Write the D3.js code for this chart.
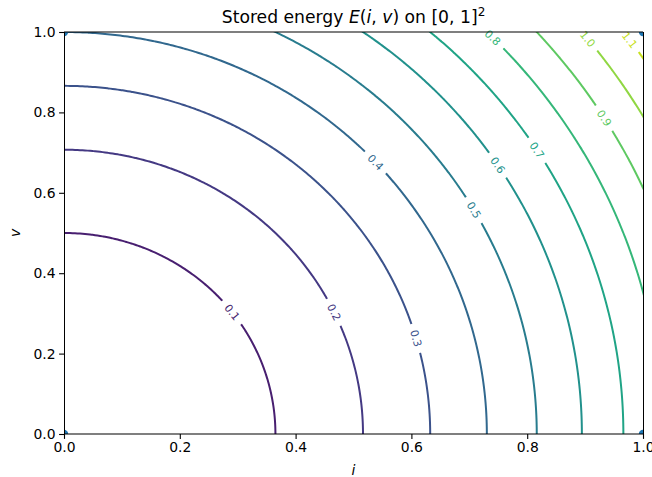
<!DOCTYPE html>
<html><head><meta charset="utf-8">
<script src="https://cdn.jsdelivr.net/npm/d3@7"></script>
<style>body{margin:0;background:#fff}svg{display:block}</style>
</head><body>
<svg id="chart" width="652" height="477"></svg>
<script>
// Stored energy E(i, v) = ½·L·i² + ½·C·v²
const inductance = 1.5;
const capacitance = 0.8;
const levels = [0.1, 0.2, 0.3, 0.4, 0.5, 0.6, 0.7, 0.8, 0.9, 1.0, 1.1];
const colorMin = 0.0, colorMax = 1.2;
// v coordinate (data space) where each contour label sits
const labelV = [0.303, 0.303, 0.238, 0.676, 0.557, 0.669, 0.706, 0.986, 0.786, 0.983, 0.980];
const xTicks = [0.0, 0.2, 0.4, 0.6, 0.8, 1.0];
const yTicks = [0.0, 0.2, 0.4, 0.6, 0.8, 1.0];
const cornerI = [0, 0, 1, 1];
const cornerV = [0, 1, 0, 1];

const energy = (i, v) => 0.5 * inductance * i * i + 0.5 * capacitance * v * v;

const svg = d3.select("#chart");
const W = 652, H = 477;
const X0 = 64, X1 = 643, Y0 = 434, Y1 = 32;
const x = d3.scaleLinear().domain([0, 1]).range([X0, X1]);
const y = d3.scaleLinear().domain([0, 1]).range([Y0, Y1]);
const font = "DejaVu Sans, sans-serif";

const defs = svg.append("defs");
defs.append("clipPath").attr("id", "plotclip")
  .append("rect").attr("x", X0).attr("y", Y1).attr("width", X1 - X0).attr("height", Y0 - Y1);

// grid
const pad = 0.02, n = 241;
const step = (1 + 2 * pad) / (n - 1);
const values = new Array(n * n);
for (let k = 0; k < n; k++) for (let j = 0; j < n; j++) {
  values[k * n + j] = energy(-pad + j * step, -pad + k * step);
}
const toData = c => -pad + (c - 0.5) * step;
const contours = d3.contours().size([n, n]).thresholds(levels)(values);
const proj = d3.geoTransform({
  point(cx, cy) { this.stream.point(x(toData(cx)), y(toData(cy))); }
});
const path = d3.geoPath(proj);
const color = lev => d3.interpolateViridis((lev - colorMin) / (colorMax - colorMin));

// corner points
svg.append("g").attr("clip-path", "url(#plotclip)")
  .selectAll("circle").data(cornerI).join("circle")
  .attr("cx", (d) => x(d)).attr("cy", (d, idx) => y(cornerV[idx]))
  .attr("r", 4.2).attr("fill", "#1f77b4");

// labels (measure first)
const labelG = svg.append("g");
const labels = levels.map((lev, idx) => {
  const v0 = labelV[idx];
  const i0 = Math.sqrt(Math.max(0, (lev - 0.5 * capacitance * v0 * v0) / (0.5 * inductance)));
  const sx = x(1) - x(0), sy = y(1) - y(0);
  const dx = -capacitance * v0 * sx, dy = inductance * i0 * sy;
  let ang = Math.atan2(dy, dx) * 180 / Math.PI;
  if (ang > 90) ang -= 180;
  if (ang <= -90) ang += 180;
  return { lev, px: x(i0), py: y(v0), ang };
});
labelG.selectAll("text").data(labels).join("text")
  .attr("transform", d => `translate(${d.px},${d.py}) rotate(${d.ang})`)
  .attr("text-anchor", "middle").attr("dy", "0.36em")
  .attr("font-family", font).attr("font-size", 10.8)
  .attr("fill", d => color(d.lev))
  .text(d => d3.format(".1f")(d.lev))
  .each(function (d) { d.w = this.getComputedTextLength(); });

const mask = defs.append("mask").attr("id", "gapmask").attr("maskUnits", "userSpaceOnUse")
  .attr("x", 0).attr("y", 0).attr("width", W).attr("height", H);
mask.append("rect").attr("x", 0).attr("y", 0).attr("width", W).attr("height", H).attr("fill", "#fff");
mask.selectAll("rect.gap").data(labels).join("rect").attr("class", "gap")
  .attr("x", d => -(d.w + 13) / 2).attr("y", -7).attr("width", d => d.w + 13).attr("height", 14)
  .attr("transform", d => `translate(${d.px},${d.py}) rotate(${d.ang})`)
  .attr("fill", "#000");

svg.insert("g", "g").attr("clip-path", "url(#plotclip)")
  .append("g").attr("mask", "url(#gapmask)")
  .selectAll("path").data(contours).join("path")
  .attr("d", path).attr("fill", "none")
  .attr("stroke", d => color(d.value)).attr("stroke-width", 2);

// spines
const sp = svg.append("g");
sp.append("line").attr("x1", X0).attr("x2", X1).attr("y1", Y1).attr("y2", Y1).attr("stroke", "#000").attr("stroke-width", 1.1);
sp.append("line").attr("x1", X0).attr("x2", X1).attr("y1", Y0).attr("y2", Y0).attr("stroke", "#000").attr("stroke-width", 1.1);
sp.append("line").attr("x1", X0 + 0.5).attr("x2", X0 + 0.5).attr("y1", Y1).attr("y2", Y0).attr("stroke", "#000").attr("stroke-width", 1);
sp.append("line").attr("x1", X1 + 0.5).attr("x2", X1 + 0.5).attr("y1", Y1).attr("y2", Y0).attr("stroke", "#000").attr("stroke-width", 1);

// axes
const fmt = d3.format(".1f");
const xAxis = svg.append("g").attr("transform", `translate(0,${Y0})`)
  .call(d3.axisBottom(x).tickValues(xTicks).tickFormat(fmt).tickSize(4.9).tickPadding(3.5));
const yAxis = svg.append("g").attr("transform", `translate(${X0},0)`)
  .call(d3.axisLeft(y).tickValues(yTicks).tickFormat(fmt).tickSize(4.9).tickPadding(3.5));
[xAxis, yAxis].forEach(a => {
  a.select(".domain").remove();
  a.selectAll("text").attr("font-family", font).attr("font-size", 13.9).attr("fill", "#000");
  a.selectAll("line").attr("stroke", "#000").attr("stroke-width", 1.1);
});

// axis labels
svg.append("text").attr("x", (X0 + X1) / 2).attr("y", 475).attr("text-anchor", "middle")
  .attr("font-family", font).attr("font-style", "italic").attr("font-size", 13.9).text("i");
svg.append("text").attr("transform", `translate(20,${(Y0 + Y1) / 2}) rotate(-90)`).attr("text-anchor", "middle")
  .attr("font-family", font).attr("font-style", "italic").attr("font-size", 13.9).text("v");

// title
const t = svg.append("text").attr("x", (X0 + X1) / 2).attr("y", 23).attr("text-anchor", "middle")
  .attr("font-family", font).attr("font-size", 17.2).attr("fill", "#000");
t.append("tspan").text("Stored energy ");
t.append("tspan").attr("font-style", "italic").text("E");
t.append("tspan").text("(");
t.append("tspan").attr("font-style", "italic").text("i");
t.append("tspan").text(", ");
t.append("tspan").attr("font-style", "italic").text("v");
t.append("tspan").text(") on [0, 1]");
t.append("tspan").attr("font-size", 12).attr("dy", -7).text("2");
</script>
</body></html>
